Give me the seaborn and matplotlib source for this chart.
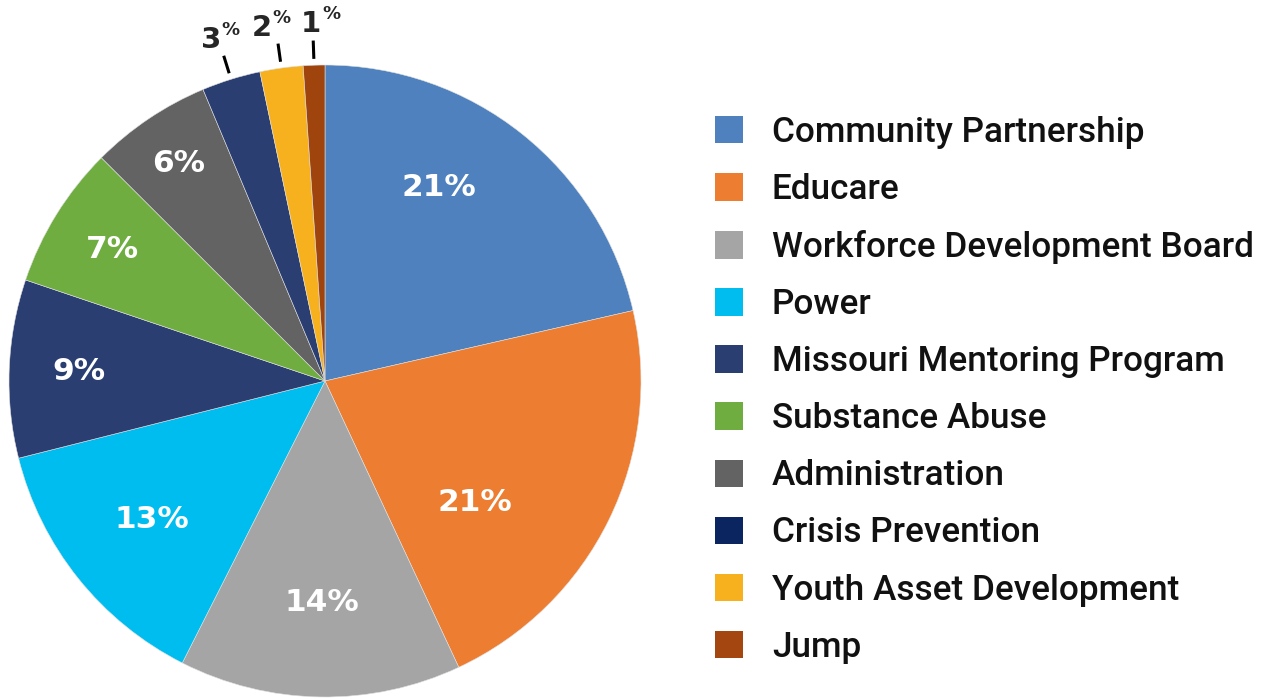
import numpy as np
import seaborn as sns
import matplotlib.pyplot as plt
from matplotlib.patches import Patch

sns.set_style("white")
plt.rcParams['font.family'] = ['Roboto', 'DejaVu Sans']

# Budget share by program (percent)
programs = [
    'Community Partnership', 'Educare', 'Workforce Development Board', 'Power',
    'Missouri Mentoring Program', 'Substance Abuse', 'Administration',
    'Crisis Prevention', 'Youth Asset Development', 'Jump'
]
shares = [21.4, 21.6, 14.4, 13.6, 9.1, 7.3, 6.2, 3.0, 2.2, 1.1]
pct_labels = ['21', '21', '14', '13', '9', '7', '6', '3', '2', '1']

slice_colors = ['#4e81bd', '#ed7d31', '#a5a5a5', '#00bdf0', '#2b3e72',
                '#70ad40', '#636363', '#2b3e72', '#f7b11e', '#a0440d']
legend_colors = ['#4e81bd', '#ed7d31', '#a5a5a5', '#00bdf0', '#2b3e72',
                 '#70ad40', '#636363', '#0a2560', '#f7b11e', '#a4460f']

fig = plt.figure(figsize=(12.61, 7), dpi=100)
ax = fig.add_axes([9 / 1261, 3 / 700, 632 / 1261, 632 / 700])

wedges, _ = ax.pie(shares, colors=slice_colors, startangle=90, counterclock=False,
                   radius=1, wedgeprops=dict(edgecolor='#e0e0e0', linewidth=0.4))
ax.set_xlim(-1, 1)
ax.set_ylim(-1, 1)
ax.set_aspect('equal')
ax.axis('off')

# inside labels: radius (fraction of pie radius) and angle nudge in degrees
label_r = [0.71, 0.61, 0.70, 0.70, 0.78, 0.79, 0.83]
label_turn = [8, -13, 0, 0, 0, 0, 0]
for w, lab, r, t in zip(wedges[:7], pct_labels[:7], label_r, label_turn):
    mid = np.deg2rad((w.theta1 + w.theta2) / 2 + t)
    ax.text(r * np.cos(mid), r * np.sin(mid), lab + '%', color='white',
            fontsize=22.5, fontweight='bold', family='DejaVu Sans',
            ha='center', va='center')

# small slices: leader line + number with superscript percent
outer_turn = [0, 0.8, -1.4]
for w, lab, t in zip(wedges[7:], pct_labels[7:], outer_turn):
    mid = np.deg2rad((w.theta1 + w.theta2) / 2)
    c, s = np.cos(mid), np.sin(mid)
    ax.plot([1.02 * c, 1.078 * c], [1.02 * s, 1.078 * s], color='black',
            lw=2.2, clip_on=False, solid_capstyle='butt')
    lm = mid + np.deg2rad(t)
    x, y = 1.105 * np.cos(lm), 1.105 * np.sin(lm)
    ax.text(x, y, lab, fontsize=21, fontweight='bold', family='DejaVu Sans',
            ha='right', va='baseline', clip_on=False)
    ax.annotate('%', (x, y), xytext=(0.5, 19), textcoords='offset points',
                fontsize=13, fontweight='bold', family='DejaVu Sans',
                ha='left', va='top', annotation_clip=False)

handles = [Patch(facecolor=c, edgecolor='none') for c in legend_colors]
leg = fig.legend(handles, programs, loc='upper left',
                 bbox_to_anchor=(715 / 1261, 1 - 116 / 700), frameon=False,
                 prop=dict(family='Roboto', size=25.3, weight='medium'),
                 handlelength=0.8, handleheight=0.82, handletextpad=0.82,
                 labelspacing=0.685, borderpad=0, borderaxespad=0)
for t in leg.get_texts():
    t.set_color('#111111')

fig.savefig('out.png', dpi=100)
